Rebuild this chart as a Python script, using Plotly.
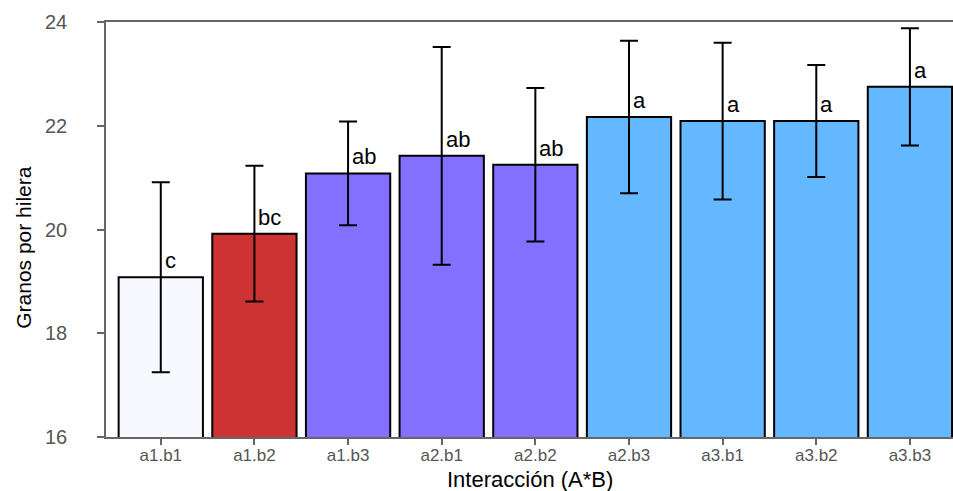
import plotly.graph_objects as go

# Mean kernels per row for each A*B treatment combination
categories = ["a1.b1", "a1.b2", "a1.b3", "a2.b1", "a2.b2",
              "a2.b3", "a3.b1", "a3.b2", "a3.b3"]
means = [19.08, 19.92, 21.08, 21.42, 21.25, 22.17, 22.09, 22.09, 22.75]
errors = [1.83, 1.31, 1.00, 2.10, 1.48, 1.47, 1.51, 1.08, 1.13]
groups = ["c", "bc", "ab", "ab", "ab", "a", "a", "a", "a"]
colors = ["#F8F8FF", "#CD3333", "#8470FF", "#8470FF", "#8470FF",
          "#63B8FF", "#63B8FF", "#63B8FF", "#63B8FF"]

font_family = "Liberation Sans, Arial, sans-serif"
axis_grey = "#666666"
tick_grey = "#555555"

fig = go.Figure(
    go.Bar(
        x=categories,
        y=means,
        base=0,
        marker=dict(color=colors, line=dict(color="black", width=2)),
        error_y=dict(type="data", array=errors, visible=True,
                     color="black", thickness=2, width=9),
        showlegend=False,
    )
)

# Significance letters placed just right of each error bar, above the bar
for cat, m, g in zip(categories, means, groups):
    fig.add_annotation(
        x=cat, y=m, text=g, showarrow=False,
        xanchor="left", yanchor="bottom", xshift=2, yshift=2,
        font=dict(family=font_family, size=22, color="black"),
    )

# Axis titles drawn as paper-anchored labels
fig.add_annotation(
    x=0.5, y=-0.103, xref="paper", yref="paper",
    text="Interacción (A*B)", showarrow=False,
    xanchor="center", yanchor="middle",
    font=dict(family=font_family, size=22, color="black"),
)
fig.add_annotation(
    x=-0.097, y=0.458, xref="paper", yref="paper",
    text="Granos por hilera", showarrow=False, textangle=-90,
    xanchor="center", yanchor="middle",
    font=dict(family=font_family, size=21, color="black"),
)

fig.update_layout(
    width=953, height=491,
    margin=dict(l=106, r=0, t=22, b=54),
    paper_bgcolor="white", plot_bgcolor="white",
    bargap=0.1,
    font=dict(family=font_family),
    xaxis=dict(
        type="category",
        range=[-0.585, 8.46],
        showline=True, linecolor=axis_grey, linewidth=1.5, mirror=True,
        ticks="outside", ticklen=6, tickcolor=axis_grey, tickwidth=1.5,
        ticklabelstandoff=-4,
        tickfont=dict(size=17, color=tick_grey),
        showgrid=False, zeroline=False,
    ),
    yaxis=dict(
        range=[16, 24],
        tickvals=[16, 18, 20, 22, 24],
        showline=True, linecolor=axis_grey, linewidth=1.5,
        ticks="outside", ticklen=7, tickcolor=axis_grey, tickwidth=1.5,
        ticklabelstandoff=26,
        tickfont=dict(size=20, color=tick_grey),
        showgrid=False, zeroline=False,
    ),
)

fig.write_html("out.html")
